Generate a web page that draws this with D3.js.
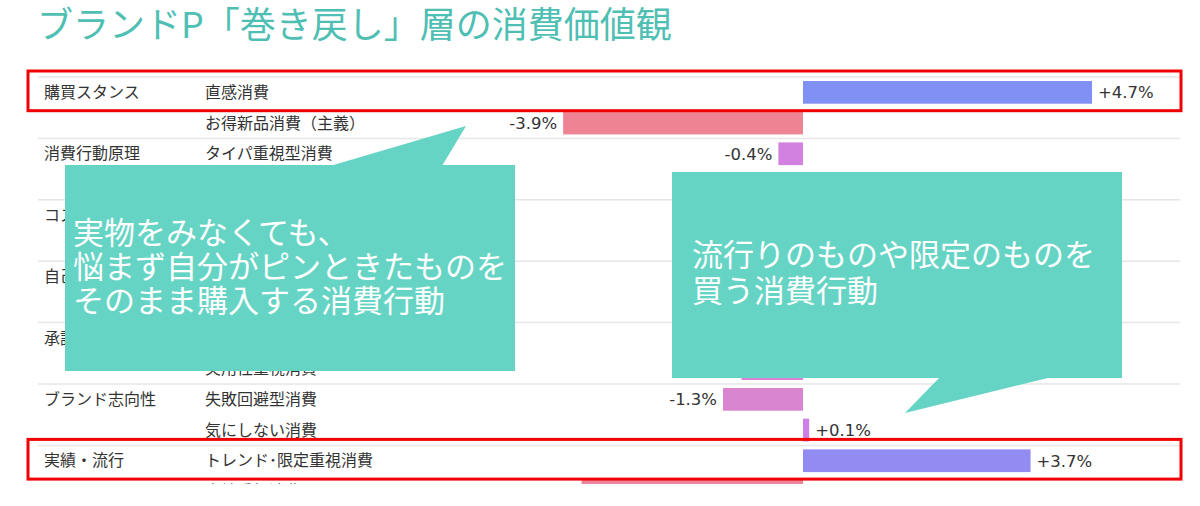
<!DOCTYPE html>
<html lang="ja">
<head>
<meta charset="utf-8">
<script src="https://cdn.jsdelivr.net/npm/d3@7"></script>
<style>
  html, body { margin: 0; padding: 0; background: #fff; }
  body { width: 1200px; height: 506px; overflow: hidden; font-family: "Noto Sans CJK JP", "Noto Sans", sans-serif; }
  svg { display: block; }
  .title { fill: #4fbfb4; font-size: 36px; }
  .group-label, .item-label { fill: #333; font-size: 16px; }
  .value-label { fill: #333; font-size: 16.5px; font-family: "DejaVu Sans", sans-serif; }
  .sep { stroke: #e6e6e6; stroke-width: 1.5; }
  .hl { fill: none; stroke: #f00000; stroke-width: 3; }
  .callout { fill: #66d4c4; }
  .callout-text { fill: #fff; font-size: 31px; }
</style>
</head>
<body>
<div id="chart"></div>
<script>
const title = "ブランドP「巻き戻し」層の消費価値観";

const groups = ["購買スタンス", "消費行動原理", "コスパ志向", "自己表現", "承認欲求", "ブランド志向性", "実績・流行"];

// rows hidden under the callouts carry no readable label or value
const items = [
  "直感消費", "お得新品消費（主義）",
  "タイパ重視型消費", "",
  "", "",
  "", "",
  "", "実用性重視消費",
  "失敗回避型消費", "気にしない消費",
  "トレンド･限定重視消費", "実績重視消費"
];
const itemGroup = [0, 0, 1, 1, 2, 2, 3, 3, 4, 4, 5, 5, 6, 6];
const values = [4.7, -3.9, -0.4, null, null, null, null, null, null, -1.0, -1.3, 0.1, 3.7, -3.6];
const highlighted = [0, 12];

const leftNote = ["実物をみなくても、", "悩まず自分がピンときたものを", "そのまま購入する消費行動"];
const rightNote = ["流行りのものや限定のものを", "買う消費行動"];

const width = 1200, height = 506;
const clipBottom = 484;

const svg = d3.select("#chart").append("svg")
  .attr("width", width).attr("height", height);

svg.append("defs").append("clipPath").attr("id", "plot-clip")
  .append("rect").attr("x", 0).attr("y", 0).attr("width", width).attr("height", clipBottom);

svg.append("text").attr("class", "title")
  .attr("x", 37).attr("y", 38)
  .text(title);

const rows = d3.range(items.length);
const y = d3.scaleBand().domain(rows).range([77, 77 + 30.7 * rows.length]).paddingInner(0.26).paddingOuter(0.13);
const x = d3.scaleLinear().domain([0, 1]).range([803, 864.5]);
const color = d3.scaleLinear().domain([-4, -1.3, 0, 5]).range(["#ef8491", "#d985cf", "#d07fe8", "#7c91f6"]);

const rowCenter = (i) => y(i) + y.bandwidth() / 2;
const rowTop = (i) => rowCenter(i) - y.step() / 2;

const g = svg.append("g").attr("clip-path", "url(#plot-clip)");

// group separators
const groupStarts = rows.filter((i) => i === 0 || itemGroup[i] !== itemGroup[i - 1]);
g.append("g").selectAll("line")
  .data(groupStarts)
  .join("line")
  .attr("class", "sep")
  .attr("x1", 38).attr("x2", 1180)
  .attr("y1", (i) => rowTop(i)).attr("y2", (i) => rowTop(i));

// group labels
g.append("g").selectAll("text")
  .data(groupStarts)
  .join("text")
  .attr("class", "group-label")
  .attr("x", 44)
  .attr("y", (i) => rowCenter(i))
  .attr("dy", "0.35em")
  .text((i) => groups[itemGroup[i]]);

// item labels
g.append("g").selectAll("text")
  .data(rows)
  .join("text")
  .attr("class", "item-label")
  .attr("x", 205)
  .attr("y", (i) => rowCenter(i))
  .attr("dy", "0.35em")
  .text((i) => items[i]);

// bars
const shown = rows.filter((i) => values[i] !== null);
g.append("g").selectAll("rect")
  .data(shown)
  .join("rect")
  .attr("x", (i) => Math.min(x(0), x(values[i])))
  .attr("width", (i) => Math.abs(x(values[i]) - x(0)))
  .attr("y", (i) => y(i))
  .attr("height", y.bandwidth())
  .attr("fill", (i) => color(values[i]));

g.append("g").selectAll("text")
  .data(shown)
  .join("text")
  .attr("class", "value-label")
  .attr("x", (i) => values[i] < 0 ? x(values[i]) - 6 : x(values[i]) + 6)
  .attr("y", (i) => rowCenter(i))
  .attr("dy", "0.35em")
  .attr("text-anchor", (i) => values[i] < 0 ? "end" : "start")
  .text((i) => (values[i] > 0 ? "+" : "") + values[i].toFixed(1) + "%");

// highlight boxes
svg.append("g").selectAll("rect")
  .data(highlighted)
  .join("rect")
  .attr("class", "hl")
  .attr("x", 28).attr("width", 1153)
  .attr("y", (i) => rowTop(i) - 6)
  .attr("height", y.step() + 9);

// callouts
function callout(box, tail, lines, tx, ty, lh) {
  const c = svg.append("g");
  c.append("rect").attr("class", "callout")
    .attr("x", box[0]).attr("y", box[1]).attr("width", box[2]).attr("height", box[3]);
  c.append("path").attr("class", "callout").attr("d", d3.line()(tail) + "Z");
  c.selectAll("text").data(lines).join("text")
    .attr("class", "callout-text")
    .attr("x", tx)
    .attr("y", (d, i) => ty + i * lh)
    .text((d) => d);
}

callout([65, 165, 450, 206], [[330, 166], [466, 126], [442, 166]], leftNote, 73, 244, 34);
callout([672, 172, 450, 206], [[940, 377], [905, 413], [1052, 377]], rightNote, 692, 266, 36);
</script>
</body>
</html>
